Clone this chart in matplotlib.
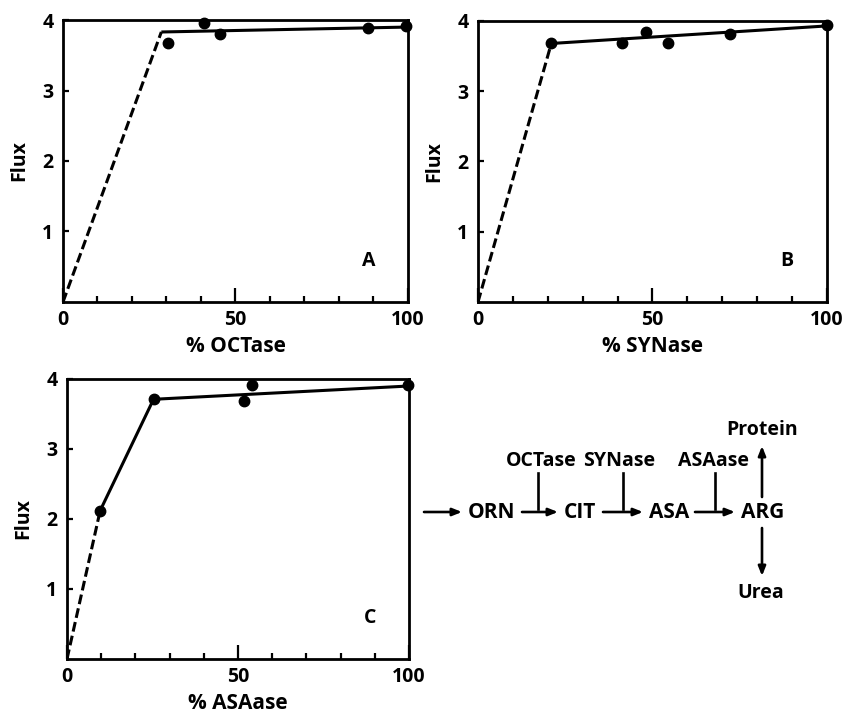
import matplotlib
matplotlib.use("Agg")
import matplotlib.pyplot as plt
import numpy as np

plt.rcParams['font.family'] = ['Open Sans', 'DejaVu Sans']
plt.rcParams['font.weight'] = 'bold'

# panel A: OCTase
octase_x = [30.4, 40.8, 45.4, 88.4, 99.3]
octase_y = [3.67, 3.96, 3.80, 3.88, 3.91]
octase_dash = ([0, 28.5], [0, 3.83])
octase_fit = ([28.5, 100], [3.83, 3.90])

# panel B: SYNase
synase_x = [21.0, 41.3, 48.2, 54.5, 72.3, 100]
synase_y = [3.68, 3.69, 3.85, 3.69, 3.82, 3.95]
synase_dash = ([0, 21.0], [0, 3.68])
synase_fit = ([21.0, 100], [3.68, 3.93])

# panel C: ASAase
asaase_x = [9.7, 25.3, 51.8, 54.0, 99.7]
asaase_y = [2.12, 3.71, 3.68, 3.92, 3.92]
asaase_dash = ([0, 9.7], [0, 2.12])
asaase_fit = ([9.7, 25.3, 25.3, 100], [2.12, 3.71, 3.71, 3.90])

FS = 14


def panel(ax, xs, ys, dash, fit, xlabel, tag):
    ax.plot(dash[0], dash[1], color='k', lw=2.2, dashes=(3.2, 1.4))
    ax.plot(fit[0], fit[1], color='k', lw=2.2, solid_capstyle='butt')
    ax.plot(xs, ys, 'o', color='k', ms=7.5, clip_on=False)
    ax.set_xlim(0, 100)
    ax.set_ylim(0, 4)
    ax.set_xticks([0, 50, 100])
    ax.set_xticks(np.arange(10, 100, 10), minor=True)
    ax.set_yticks([1, 2, 3, 4])
    ax.tick_params(axis='x', which='major', direction='in', length=10, width=1.6,
                   labelsize=FS, pad=6)
    ax.tick_params(axis='x', which='minor', direction='in', length=4, width=1.6)
    ax.tick_params(axis='y', which='major', direction='in', length=4, width=1.6,
                   labelsize=FS, pad=7)
    for sp in ax.spines.values():
        sp.set_linewidth(2.0)
    ax.set_xlabel(xlabel, fontsize=FS + 1, fontweight='bold', labelpad=4)
    ax.set_ylabel('Flux', fontsize=FS, fontweight='bold', labelpad=9)
    ax.text(88.5, 0.58, tag, fontsize=FS, fontweight='bold', ha='center', va='center')


fig = plt.figure(figsize=(8.45, 7.15), dpi=100)
W, H = 845, 715


def add_axes_px(left, top, right, bottom):
    return fig.add_axes([left / W, 1 - bottom / H, (right - left) / W, (bottom - top) / H])


ax_a = add_axes_px(63, 20, 408, 302)
ax_b = add_axes_px(478, 21, 827, 302)
ax_c = add_axes_px(67, 379, 409, 659)

panel(ax_a, octase_x, octase_y, octase_dash, octase_fit, '% OCTase', 'A')
panel(ax_b, synase_x, synase_y, synase_dash, synase_fit, '% SYNase', 'B')
panel(ax_c, asaase_x, asaase_y, asaase_dash, asaase_fit, '% ASAase', 'C')

# pathway diagram, drawn in pixel coordinates of the figure
dg = fig.add_axes([0, 0, 1, 1])
dg.set_xlim(0, W)
dg.set_ylim(H, 0)
dg.axis('off')

row_y = 512
metabolites = ['ORN', 'CIT', 'ASA', 'ARG']
met_x = [492, 580, 669, 763]
arrows = [(424, 462), (522, 558), (603, 643), (695, 735)]
enzymes = ['OCTase', 'SYNase', 'ASAase']
enz_x = [541, 619, 714]
enz_line_x = [538, 623, 715]

akw = dict(arrowstyle='-|>,head_length=0.55,head_width=0.22', color='k', lw=1.9,
           shrinkA=0, shrinkB=0)
for name, x in zip(metabolites, met_x):
    dg.text(x, row_y, name, fontsize=FS + 1, fontweight='bold', ha='center', va='center')
for x0, x1 in arrows:
    dg.annotate('', xy=(x1, row_y), xytext=(x0, row_y), arrowprops=akw)
for name, xt, xl in zip(enzymes, enz_x, enz_line_x):
    dg.text(xt, 461, name, fontsize=FS, fontweight='bold', ha='center', va='center')
    dg.plot([xl, xl], [473, 509], color='k', lw=1.9)

dg.annotate('', xy=(762, 446), xytext=(762, 497), arrowprops=akw)
dg.annotate('', xy=(762, 576), xytext=(762, 528), arrowprops=akw)
dg.text(762, 430, 'Protein', fontsize=FS, fontweight='bold', ha='center', va='center')
dg.text(761, 593, 'Urea', fontsize=FS, fontweight='bold', ha='center', va='center')

fig.savefig('out.png', dpi=100)
